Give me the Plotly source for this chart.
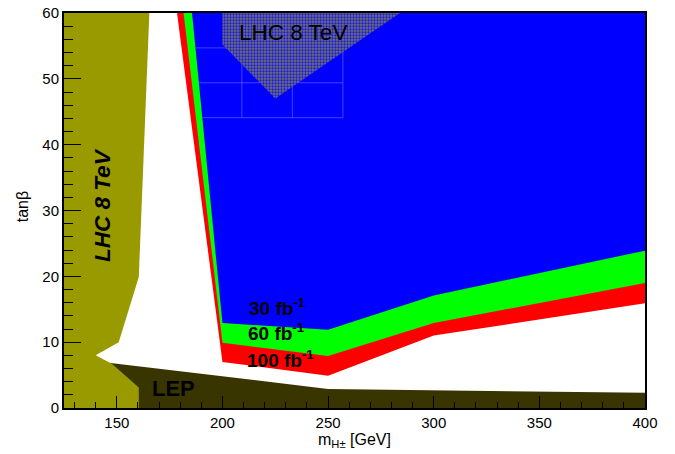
import plotly.graph_objects as go

# ---- data (m_H+ [GeV], tan beta) ----
mass_nodes = [200, 250, 300, 400]

# exclusion contours (lower edges), left edge top x at tanb=60
lumi_labels = ["100 fb<sup>-1</sup>", "60 fb<sup>-1</sup>", "30 fb<sup>-1</sup>"]
lumi_colors = ["#ff0000", "#00ff00", "#0000ff"]
lumi_top_x = [178.5, 181.6, 185.6]
lumi_low = [
    [7.0, 4.9, 11.0, 15.9],    # 100 fb-1
    [9.9, 7.9, 12.9, 19.0],    # 60 fb-1
    [12.9, 11.9, 17.1, 23.9],  # 30 fb-1
]
tanb_max = 60

# LHC 8 TeV excluded (low mass, olive)
lhc_low_x = [125, 125, 165.4, 160.4, 150.9, 140.0, 147.8, 160.4, 160.4]
lhc_low_y = [0, 60, 60, 19.9, 10.0, 8.0, 6.7, 3.1, 0]

# LHC 8 TeV excluded (high tan beta, hatched)
lhc_high_x = [200, 200, 225, 284]
lhc_high_y = [60, 55.2, 47.0, 60]

# LEP excluded
lep_x = [140, 250, 400, 400, 140]
lep_y = [7.1, 2.9, 2.3, 0, 0]

# faint rendering-grid lines inside the blue area
grid_h_y = [54.7, 49.4, 44.1]
grid_h_x0 = [187.2, 188.8, 190.5]
grid_h_x1 = 257.0
grid_v_x = [209.2, 233.1, 257.0]

FONT = "Liberation Sans, Arial, Helvetica, sans-serif"

fig = go.Figure()

for lbl, col, tx, low in zip(lumi_labels, lumi_colors, lumi_top_x, lumi_low):
    xs = [tx] + mass_nodes + [mass_nodes[-1]]
    ys = [tanb_max] + low + [tanb_max]
    fig.add_trace(go.Scatter(x=xs, y=ys, fill="toself", fillcolor=col,
                             mode="none", hoverinfo="skip", showlegend=False))

# faint grid
gx, gy = [], []
for yv, x0 in zip(grid_h_y, grid_h_x0):
    gx += [x0, grid_h_x1, None]
    gy += [yv, yv, None]
for xv in grid_v_x:
    gx += [xv, xv, None]
    gy += [min(grid_h_y), max(grid_h_y), None]
fig.add_trace(go.Scatter(x=gx, y=gy, mode="lines",
                         line=dict(color="rgba(120,120,255,0.55)", width=1),
                         hoverinfo="skip", showlegend=False))

fig.add_trace(go.Scatter(x=lhc_high_x, y=lhc_high_y, fill="toself",
                         fillcolor="#666688", mode="none",
                         fillpattern=dict(shape=".", size=3, solidity=0.45,
                                          fgcolor="#1a1ae0", bgcolor="#707070",
                                          fillmode="replace"),
                         hoverinfo="skip", showlegend=False))

fig.add_trace(go.Scatter(x=lep_x, y=lep_y, fill="toself", fillcolor="#383500",
                         mode="none", hoverinfo="skip", showlegend=False))
fig.add_trace(go.Scatter(x=lhc_low_x, y=lhc_low_y, fill="toself", fillcolor="#999900",
                         mode="none", hoverinfo="skip", showlegend=False))

annots = [
    dict(x=233.2, y=57.1, text="LHC 8 TeV", font=dict(size=22.5, color="black", family=FONT),
         xanchor="center", yanchor="middle"),
    dict(x=142.9, y=30.8, text="<b><i>LHC 8 TeV</i></b>", textangle=-90,
         font=dict(size=22.5, color="black", family=FONT),
         xanchor="center", yanchor="middle"),
    dict(x=165.5, y=3.0, text="<b>LEP</b>", font=dict(size=22, color="black", family=FONT),
         xanchor="left", yanchor="middle"),
    dict(x=211.5, y=15.3, text="<b>" + lumi_labels[2] + "</b>", font=dict(size=19, color="black", family=FONT),
         xanchor="left", yanchor="middle"),
    dict(x=211.2, y=11.5, text="<b>" + lumi_labels[1] + "</b>", font=dict(size=19, color="black", family=FONT),
         xanchor="left", yanchor="middle"),
    dict(x=210.8, y=7.5, text="<b>" + lumi_labels[0] + "</b>", font=dict(size=19, color="black", family=FONT),
         xanchor="left", yanchor="middle"),
    dict(x=-0.071, y=0.51, xref="paper", yref="paper", text="tanβ", textangle=-90,
         font=dict(size=16, color="black", family=FONT), xanchor="center", yanchor="middle",
         showarrow=False),
    dict(x=0.5, y=-0.083, xref="paper", yref="paper", text="m<sub>H±</sub> [GeV]",
         font=dict(size=16, color="black", family=FONT), xanchor="center", yanchor="middle",
         showarrow=False),
]
for a in annots:
    a.setdefault("showarrow", False)
    a.setdefault("xref", "x")
    a.setdefault("yref", "y")
    fig.add_annotation(**a)

axis_common = dict(showgrid=False, zeroline=False, showline=True, linecolor="black",
                   linewidth=2, mirror=True, ticks="inside", tickcolor="black",
                   tickwidth=1, automargin=False,
                   tickfont=dict(size=15, color="black", family=FONT))

fig.update_xaxes(range=[125, 400], tick0=0, dtick=50, ticklen=12,
                 minor=dict(ticks="inside", dtick=10, ticklen=6, tickcolor="black", tickwidth=1),
                 **axis_common)
fig.update_yaxes(range=[0, 60], tick0=0, dtick=10, ticklen=17,
                 minor=dict(ticks="inside", dtick=2, ticklen=8.5, tickcolor="black", tickwidth=1),
                 **axis_common)

fig.update_layout(width=675, height=454, margin=dict(l=64, r=30, t=13, b=46),
                  paper_bgcolor="white", plot_bgcolor="white",
                  font=dict(family=FONT, color="black"))

# remove the browser's default 8px body margin so the figure sits at the page corner
fig.write_html("out.html", config={"displayModeBar": False},
               post_script="document.body.style.margin='0';document.body.style.overflow='hidden';")
